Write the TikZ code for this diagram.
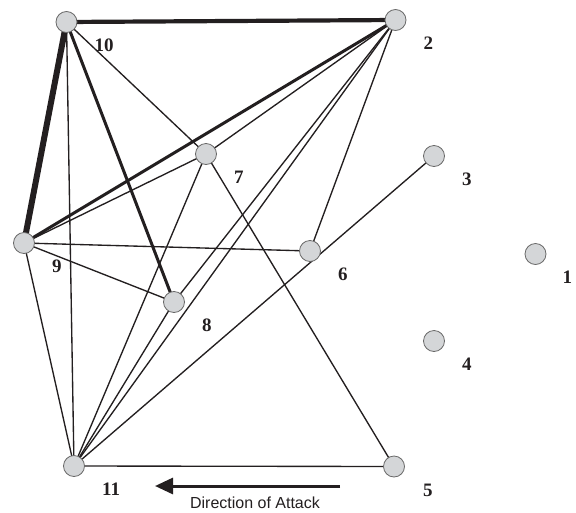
\documentclass[tikz,border=0pt]{standalone}
\usepackage{fontspec}
\setmainfont{Liberation Serif}
\newfontfamily\arialfont{Liberation Sans}
\usetikzlibrary{arrows.meta,positioning,backgrounds}
\definecolor{nodegray}{RGB}{212,214,216}
\definecolor{rimgray}{RGB}{105,105,105}
\definecolor{inkblack}{RGB}{35,31,32}

\begin{document}
\begin{tikzpicture}[
    x=1pt, y=-1pt,
    unit/.style={circle, draw=rimgray, line width=0.8pt, fill=nodegray, minimum size=21pt, inner sep=0pt},
    numlabel/.style={inner sep=0pt, font=\fontsize{19}{19}\selectfont\bfseries, text=inkblack},
    link/.style={inkblack, line width=1.35pt},
    medlink/.style={inkblack, line width=3pt},
    boldlink/.style={inkblack, line width=4.2pt},
    heavylink/.style={inkblack, line width=6pt},
    attack/.style={-{Triangle[length=18pt,width=16pt]}, inkblack, line width=3pt}
]
\useasboundingbox (0,0) rectangle (576,512);
% units
\node[unit] (n10) at (66.5,22) {};
\node[unit] (n2) at (395.5,20) {};
\node[unit] (n7) at (206,154) {};
\node[unit] (n3) at (434,156) {};
\node[unit] (n9) at (24,243) {};
\node[unit] (n6) at (310,251) {};
\node[unit] (n1) at (535.5,254) {};
\node[unit] (n8) at (174,302) {};
\node[unit] (n4) at (434,341) {};
\node[unit] (n11) at (74,466) {};
\node[unit] (n5) at (394,466.5) {};
% numbers
\node[numlabel, below right=17pt and 28pt of n10.center] (l10) {10};
\node[numlabel, below right=17pt and 28pt of n2.center] (l2) {2};
\node[numlabel, below right=17pt and 28pt of n7.center] (l7) {7};
\node[numlabel, below right=17pt and 28pt of n3.center] (l3) {3};
\node[numlabel, below right=17pt and 28pt of n9.center] (l9) {9};
\node[numlabel, below right=17pt and 28pt of n6.center] (l6) {6};
\node[numlabel, below right=17pt and 27pt of n1.center] (l1) {1};
\node[numlabel, below right=17pt and 28pt of n8.center] (l8) {8};
\node[numlabel, below right=17pt and 28pt of n4.center] (l4) {4};
\node[numlabel, below right=17pt and 28pt of n11.center] (l11) {11};
\node[numlabel, below right=17pt and 29pt of n5.center] (l5) {5};
% links
\begin{scope}[on background layer]
\draw[heavylink] (n10.center) -- (n9.center);
\draw[boldlink] (n10.center) -- (n2.center);
\draw[medlink] (n10.center) -- (n8.center);
\draw[medlink] (n2.center) -- (n9.center);
\draw[link] (n10.center) -- (n7.center);
\draw[link] (n10.center) -- (n11.center);
\draw[link] (n2.center) -- (n7.center);
\draw[link] (n2.center) -- (n6.center);
\draw[link] (n2.center) -- (n8.center);
\draw[link] (n2.center) -- (n11.center);
\draw[link] (n7.center) -- (n9.center);
\draw[link] (n7.center) -- (n11.center);
\draw[link] (n7.center) -- (n5.center);
\draw[link] (n9.center) -- (n6.center);
\draw[link] (n9.center) -- (n8.center);
\draw[link] (n9.center) -- (n11.center);
\draw[link] (n8.center) -- (n11.center);
\draw[link] (n3.center) -- (n11.center);
\draw[link] (n11.center) -- (n5.center);
\end{scope}
% direction arrow
\coordinate (atkfrom) at (340,486);
\coordinate (atkto) at (155,486);
\draw[attack] (atkfrom) -- (atkto);
\node[anchor=base, inner sep=0pt, font=\arialfont\fontsize{16}{16}\selectfont, text=inkblack] (atktext) at (255,508) {Direction of Attack};
\end{tikzpicture}
\end{document}
